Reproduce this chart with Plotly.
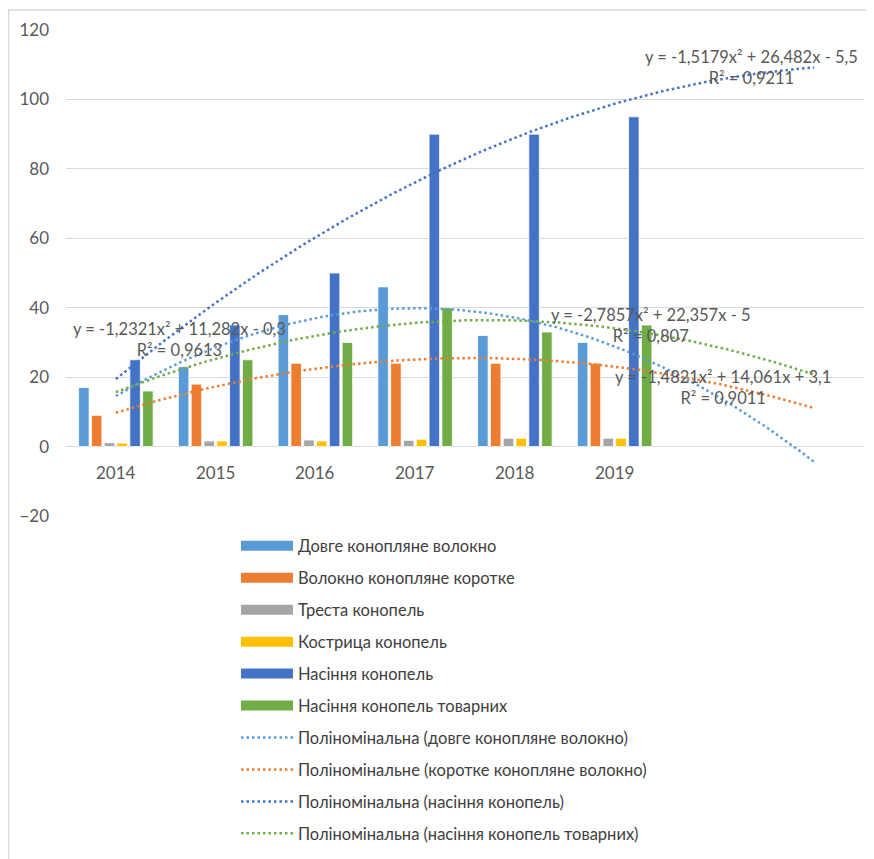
import numpy as np
import plotly.graph_objects as go

# --- data -------------------------------------------------------------
years = ['2014', '2015', '2016', '2017', '2018', '2019']
positions = [1, 2, 3, 4, 5, 6]
forecast_end = 8  # trendlines are extended two periods forward

long_fibre = [17, 23, 38, 46, 32, 30]
short_fibre = [9, 18, 24, 24, 24, 24]
retted_stalks = [1.1, 1.6, 1.9, 1.8, 2.4, 2.4]
shives = [1.0, 1.6, 1.6, 2.1, 2.4, 2.4]
seeds = [25, 35, 50, 90, 90, 95]
market_seeds = [16, 25, 30, 40, 33, 35]

bar_names = ['Довге конопляне волокно', 'Волокно конопляне коротке', 'Треста конопель',
             'Кострица конопель', 'Насіння конопель', 'Насіння конопель товарних']
bar_values = [long_fibre, short_fibre, retted_stalks, shives, seeds, market_seeds]
bar_colors = ['#5B9BD5', '#ED7D31', '#A5A5A5', '#FFC000', '#4472C4', '#70AD47']

trend_names = ['Поліномінальна (довге конопляне волокно)',
               'Поліномінальне (коротке конопляне волокно)',
               'Поліномінальна (насіння конопель)',
               'Поліномінальна (насіння конопель товарних)']
trend_values = [long_fibre, short_fibre, seeds, market_seeds]
trend_colors = ['#5B9BD5', '#ED7D31', '#4472C4', '#70AD47']
# where each equation label sits (data coords)
label_pos = [(6.36, 34.9), (1.64, 30.9), (7.37, 109.2), (7.09, 17.0)]

FONT = 'Lato'
GREY = '#595959'


def num(v, fmt):
    return format(v, fmt).replace('.', ',')


def equation(coef, r2):
    a, b, c = coef
    s = 'y = ' + num(a, '.5g') + 'x² '
    s += ('+ ' if b >= 0 else '- ') + num(abs(b), '.5g') + 'x '
    s += ('+ ' if c >= 0 else '- ') + num(abs(c), '.5g')
    return s + '<br>R² = ' + num(r2, '.4g')


fig = go.Figure()

for name, vals, col in zip(bar_names, bar_values, bar_colors):
    fig.add_trace(go.Bar(x=positions, y=vals, name=name, marker_color=col,
                         marker_line=dict(color='white', width=0.8),
                         showlegend=False))

# legend swatches for the bars (wide strips like the original)
for name, col in zip(bar_names, bar_colors):
    fig.add_trace(go.Scatter(x=[None], y=[None], mode='lines', name=name,
                             line=dict(color=col, width=10), legendgroup=name))

x_fit = np.linspace(positions[0], forecast_end, 141)
for name, vals, col, (lx, ly) in zip(trend_names, trend_values, trend_colors, label_pos):
    coef = np.polyfit(positions, vals, 2)
    fitted = np.polyval(coef, positions)
    r2 = 1 - np.sum((np.array(vals) - fitted) ** 2) / np.sum((np.array(vals) - np.mean(vals)) ** 2)
    fig.add_trace(go.Scatter(x=x_fit, y=np.polyval(coef, x_fit), mode='lines', name=name,
                             line=dict(color=col, width=2.5, dash='2.5px,3px'),
                             legendgroup=name, hoverinfo='skip'))
    fig.add_annotation(x=lx, y=ly, text=equation(coef, r2), showarrow=False,
                       align='center', font=dict(family=FONT, size=16.5, color=GREY))

# category labels sit under the zero line, as in Excel
for p, yr in zip(positions, years):
    fig.add_annotation(x=p, y=0, text=yr, showarrow=False, yanchor='top', yshift=-13,
                       font=dict(family=FONT, size=17, color=GREY))

# chart frame
fig.add_shape(type='rect', xref='paper', yref='paper', x0=-0.072, x1=1.03, y0=-0.8, y1=1.041,
              line=dict(color='#D9D9D9', width=1.5), layer='below')

fig.update_layout(
    width=866, height=851,
    margin=dict(l=58, r=10, t=22, b=342),
    paper_bgcolor='white', plot_bgcolor='white',
    barmode='group', bargap=0.23, bargroupgap=0.18,
    font=dict(family=FONT, color=GREY),
    xaxis=dict(range=[0.5, 8.5], showticklabels=False, showgrid=False, zeroline=False),
    yaxis=dict(range=[-20, 120], dtick=20, gridcolor='#D9D9D9', gridwidth=1,
               zeroline=True, zerolinecolor='#D9D9D9', zerolinewidth=1,
               tickfont=dict(family=FONT, size=17, color=GREY), ticklabelstandoff=16),
    legend=dict(x=0.213, y=-0.685, xanchor='left', yanchor='bottom', itemwidth=52,
                tracegroupgap=7.5, font=dict(family=FONT, size=16.5, color='#404040'),
                bgcolor='rgba(0,0,0,0)'),
    showlegend=True,
)

fig.write_html("out.html")
